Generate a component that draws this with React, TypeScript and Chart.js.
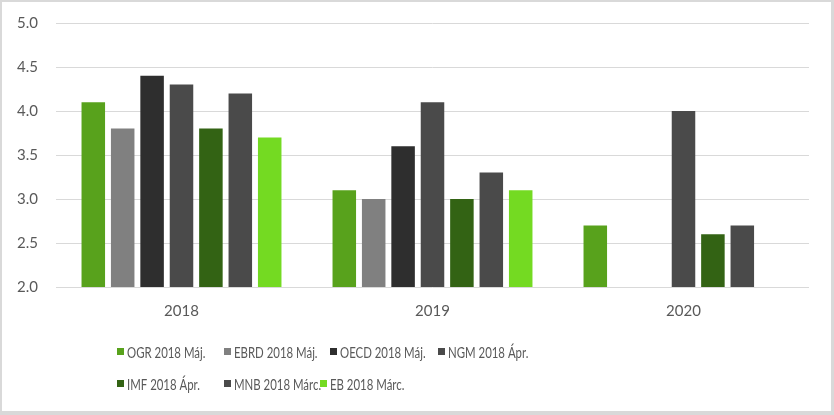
import { useEffect, useRef } from "react";
import { Chart, registerables } from "chart.js";

Chart.register(...registerables);

const categories = ["2018", "2019", "2020"];
const seriesNames = [
  "OGR 2018 Máj.",
  "EBRD 2018 Máj.",
  "OECD 2018 Máj.",
  "NGM 2018 Ápr.",
  "IMF 2018 Ápr.",
  "MNB 2018 Márc.",
  "EB 2018 Márc.",
];
const ogr = [4.1, 3.1, 2.7];
const ebrd = [3.8, 3.0, null];
const oecd = [4.4, 3.6, null];
const ngm = [4.3, 4.1, 4.0];
const imf = [3.8, 3.0, 2.6];
const mnb = [4.2, 3.3, 2.7];
const eb = [3.7, 3.1, null];
const seriesValues = [ogr, ebrd, oecd, ngm, imf, mnb, eb];
const seriesColors = ["#58a21c", "#808080", "#2e2e2e", "#4a4a4a", "#336314", "#4a4a4a", "#74da22"];
const yMin = 2.0;
const yMax = 5.0;
const yStep = 0.5;

const FONT = "Lato, sans-serif";
const TEXT = "#595959";

const legendRows = [
  { y: 350, items: [0, 1, 2, 3], xs: [115, 222, 328, 436] },
  { y: 382, items: [4, 5, 6], xs: [115, 222, 318] },
];
const LEGEND_TEXT_SCALE = 0.76;

const legendPlugin = {
  id: "excelLegend",
  afterDraw(chart: any) {
    const ctx = chart.ctx;
    for (const row of legendRows) {
      row.items.forEach((idx, k) => {
        const ds = chart.data.datasets[idx];
        const x = row.xs[k];
        ctx.save();
        ctx.fillStyle = ds.backgroundColor;
        ctx.fillRect(x, row.y - 4, 7, 7);
        ctx.font = `15px ${FONT}`;
        ctx.textBaseline = "middle";
        ctx.textAlign = "left";
        ctx.fillStyle = TEXT;
        ctx.translate(x + 10, row.y + 1);
        ctx.scale(LEGEND_TEXT_SCALE, 1);
        ctx.fillText(ds.label, 0, 0);
        ctx.restore();
      });
    }
  },
};

const bgPlugin = {
  id: "whiteBg",
  beforeDraw(chart: any) {
    const ctx = chart.ctx;
    ctx.save();
    ctx.fillStyle = "#ffffff";
    ctx.fillRect(0, 0, chart.width, chart.height);
    ctx.restore();
  },
};

export default function App() {
  const ref = useRef<HTMLCanvasElement>(null);
  useEffect(() => {
    document.body.style.margin = "0";
    if (!ref.current) return;
    const chart = new Chart(ref.current, {
      type: "bar",
      data: {
        labels: categories,
        datasets: seriesNames.map((name, i) => ({
          label: name,
          data: seriesValues[i],
          backgroundColor: seriesColors[i],
          borderWidth: 0,
          barPercentage: 0.8,
          categoryPercentage: 0.82,
        })),
      },
      options: {
        animation: false,
        responsive: false,
        maintainAspectRatio: false,
        layout: { padding: { top: 21, right: 22, bottom: 76, left: 0 } },
        plugins: {
          legend: { display: false },
          tooltip: { enabled: false },
        },
        scales: {
          x: {
            grid: { display: false, drawTicks: false },
            border: { display: false },
            ticks: { color: TEXT, font: { family: FONT, size: 15 }, padding: 15 },
          },
          y: {
            min: yMin,
            max: yMax,
            afterFit(scale: any) {
              scale.width = 54;
              scale.paddingTop = 0;
              scale.paddingBottom = 0;
            },
            grid: { color: "#d9d9d9", drawTicks: false, lineWidth: 1 },
            border: { display: false },
            ticks: {
              stepSize: yStep,
              color: TEXT,
              font: { family: FONT, size: 15 },
              padding: 18,
              callback: (v: any) => Number(v).toFixed(1),
            },
          },
        },
      },
      plugins: [bgPlugin, legendPlugin],
    });
    return () => chart.destroy();
  }, []);
  return (
    <div style={{ position: "relative", width: 834, height: 415, background: "#d9d9d9" }}>
      <canvas
        ref={ref}
        width={829}
        height={409}
        style={{ position: "absolute", left: 2, top: 2, width: 829, height: 409 }}
      />
    </div>
  );
}
